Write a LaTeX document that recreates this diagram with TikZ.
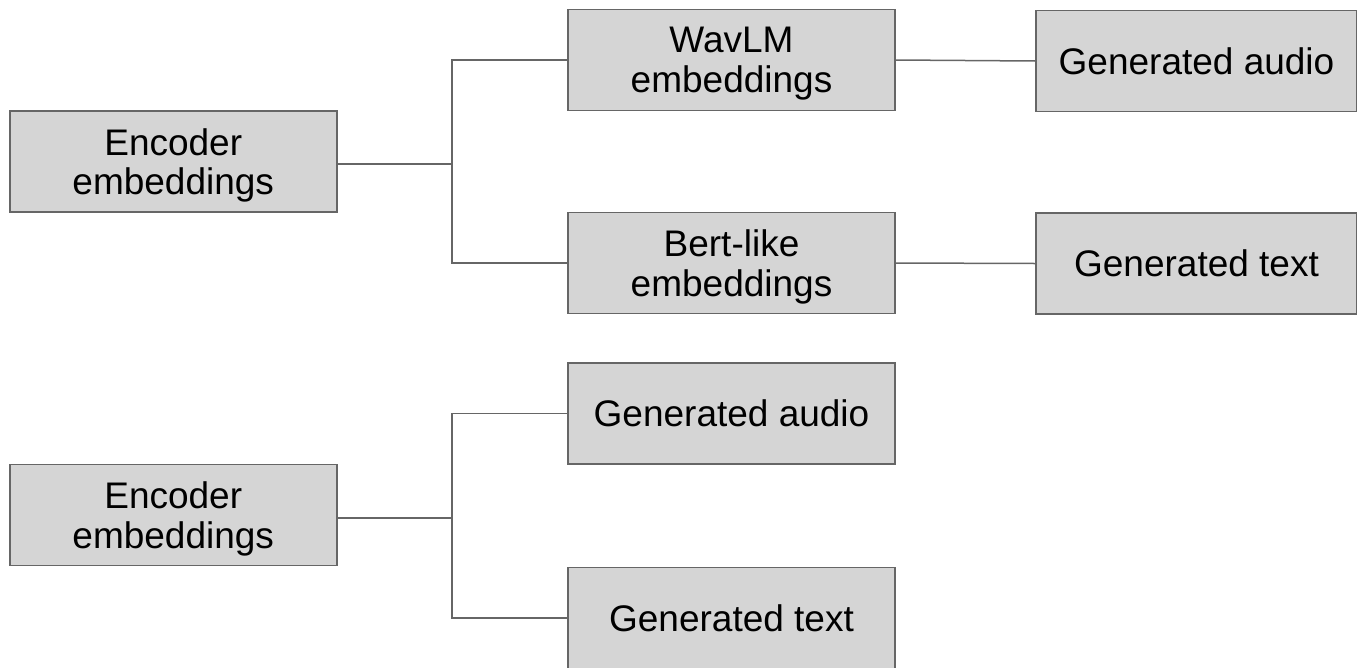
\documentclass[tikz,border=0pt]{standalone}
\usepackage{fontspec}
\setmainfont{Liberation Sans}
\definecolor{boxfill}{HTML}{D5D5D5}
\definecolor{edgegray}{HTML}{666666}
\begin{document}
\begin{tikzpicture}[x=1pt,y=-1pt,
  box/.style={draw=edgegray, line width=1.5pt, fill=boxfill,
    minimum width=327pt, minimum height=101pt, inner sep=0pt,
    text depth=0pt, align=center, font=\fontsize{37}{39.5}\selectfont,
    text=black},
  link/.style={draw=edgegray, line width=1.5pt}]
\useasboundingbox (0,0) rectangle (1357,667);

% upper tree
\node[box] (enc1) at (173.25,161.5) {Encoder\\embeddings};
\node[box] (wav) at (731.5,60) {WavLM\\embeddings};
\node[box, minimum width=321pt] (aud1) at (1196.5,61) {Generated audio};
\node[box] (bert) at (731.5,263) {Bert-like\\embeddings};
\node[box, minimum width=321pt] (txt1) at (1196.5,263.5) {Generated text};

% lower tree
\node[box] (enc2) at (173.25,515) {Encoder\\embeddings};
\node[box] (aud2) at (731.5,413.5) {Generated audio};
\node[box] (txt2) at (731.5,618) {Generated text};

\coordinate (j1) at (452,164);
\coordinate (j2) at (452,518);

\draw[link] (enc1.east |- j1) -- (j1);
\draw[link] (wav.west) -| (j1) |- (bert.west);
\draw[link] (wav.east) -- (aud1.west);
\draw[link] (bert.east) -- (txt1.west);

\draw[link] (enc2.east |- j2) -- (j2);
\draw[link] (aud2.west) -| (j2) |- (txt2.west);
\end{tikzpicture}
\end{document}
